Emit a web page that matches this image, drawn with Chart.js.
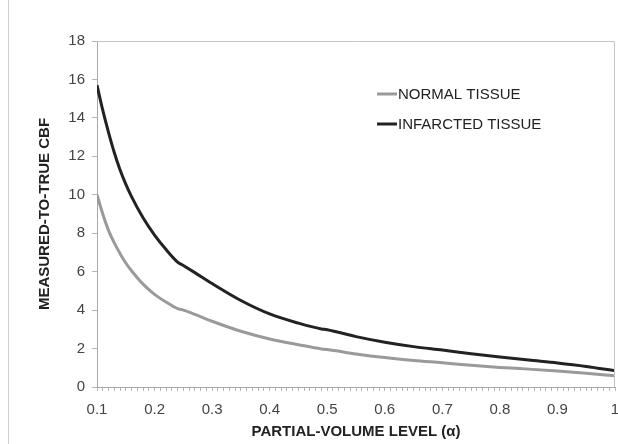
<!DOCTYPE html>
<html>
<head>
<meta charset="utf-8">
<script src="https://cdn.jsdelivr.net/npm/chart.js@4"></script>
<style>
  html, body { margin: 0; padding: 0; background: #fff; }
  #wrap { width: 618px; height: 444px; }
</style>
</head>
<body>
<div id="wrap"><canvas id="myChart" width="618" height="444"></canvas></div>
<script>
// Measured-to-true CBF vs partial-volume level

const alphaLevels = [0.1, 0.11, 0.12, 0.13, 0.14, 0.15, 0.16, 0.18, 0.2, 0.22, 0.24, 0.25, 0.27,
                     0.3, 0.35, 0.4, 0.45, 0.49, 0.5, 0.55, 0.6, 0.65, 0.7, 0.75, 0.8, 0.85,
                     0.9, 0.95, 1.0];
const normalTissue = [10.0, 9.0, 8.15, 7.5, 6.95, 6.45, 6.05, 5.35, 4.82, 4.42, 4.08, 4.0, 3.78,
                      3.42, 2.9, 2.5, 2.2, 1.98, 1.95, 1.72, 1.53, 1.38, 1.26, 1.13, 1.02, 0.93,
                      0.83, 0.71, 0.58];
const infarctedTissue = [15.7, 14.4, 13.25, 12.2, 11.3, 10.55, 9.9, 8.8, 7.9, 7.15, 6.5, 6.32, 5.95,
                         5.38, 4.5, 3.8, 3.32, 3.02, 2.98, 2.62, 2.33, 2.1, 1.92, 1.73, 1.56, 1.4,
                         1.25, 1.07, 0.85];
const seriesNames = ['NORMAL TISSUE', 'INFARCTED TISSUE'];
const seriesColors = ['#9a9a9a', '#222222'];
const yTickStep = 2;

const FONT = '"Liberation Sans", Arial, sans-serif';

const frameAndLegend = {
    id: 'frameAndLegend',
    afterDraw(chart) {
        const { ctx, chartArea: { left, right, top, bottom } } = chart;
        ctx.save();
        // outer left rule of the figure
        ctx.strokeStyle = '#cfcfcf';
        ctx.lineWidth = 1;
        ctx.beginPath(); ctx.moveTo(8.5, 0); ctx.lineTo(8.5, 444); ctx.stroke();
        // top + right plot border
        ctx.strokeStyle = '#c4c4c4';
        ctx.beginPath();
        ctx.moveTo(left, top + 0.5); ctx.lineTo(right - 0.5, top + 0.5); ctx.lineTo(right - 0.5, bottom);
        ctx.stroke();
        // legend
        ctx.font = '15px ' + FONT;
        ctx.textBaseline = 'middle';
        ctx.textAlign = 'left';
        const rows = [94, 124];
        seriesNames.forEach((name, i) => {
            ctx.strokeStyle = seriesColors[i];
            ctx.lineWidth = 3;
            ctx.beginPath(); ctx.moveTo(377, rows[i]); ctx.lineTo(397, rows[i]); ctx.stroke();
            ctx.fillStyle = '#222';
            ctx.fillText(name, 398, rows[i] + 1);
        });
        ctx.restore();
    }
};

document.addEventListener('DOMContentLoaded', () => {
    const toPoints = vals => alphaLevels.map((a, i) => ({ x: a, y: vals[i] }));

    new Chart(document.getElementById('myChart'), {
        type: 'line',
        data: {
            datasets: [
                { label: seriesNames[0], data: toPoints(normalTissue), borderColor: seriesColors[0],
                  borderWidth: 3, pointRadius: 0, cubicInterpolationMode: 'monotone' },
                { label: seriesNames[1], data: toPoints(infarctedTissue), borderColor: seriesColors[1],
                  borderWidth: 3, pointRadius: 0, cubicInterpolationMode: 'monotone' },
            ]
        },
        options: {
            responsive: false,
            animation: false,
            layout: { padding: { top: 41, right: 3, left: 0, bottom: 0 } },
            plugins: { legend: { display: false }, tooltip: { enabled: false } },
            scales: {
                x: {
                    type: 'linear', min: 0.1, max: 1,
                    afterFit: s => { s.height = 57; s.paddingLeft = 0; s.paddingRight = 0; },
                    afterBuildTicks: s => {
                        const t = [];
                        for (let k = 10; k <= 100; k++) t.push({ value: k / 100 });
                        s.ticks = t;
                    },
                    ticks: {
                        autoSkip: false, maxRotation: 0, padding: 10,
                        color: '#444', font: { family: FONT, size: 15 },
                        callback: v => {
                            const k = Math.round(v * 100);
                            if (k % 10 !== 0) return '';
                            return k === 100 ? '1' : (k / 100).toFixed(1);
                        }
                    },
                    grid: { drawOnChartArea: false, tickLength: 4, color: '#b5b5b5' },
                    border: { color: '#a8a8a8' },
                    title: { display: true, text: 'PARTIAL-VOLUME LEVEL (α)', color: '#222',
                             font: { family: FONT, size: 15, weight: 'bold' }, padding: { top: 0, bottom: 3 } }
                },
                y: {
                    min: 0, max: 18,
                    afterFit: s => { s.width = 97; },
                    ticks: { stepSize: yTickStep, padding: 7, color: '#444', font: { family: FONT, size: 15 } },
                    grid: { drawOnChartArea: false, tickLength: 5, color: '#b5b5b5' },
                    border: { color: '#a8a8a8' },
                    title: { display: true, text: 'MEASURED-TO-TRUE CBF', color: '#222',
                             font: { family: FONT, size: 15, weight: 'bold' }, padding: { top: 36, bottom: 0 } }
                }
            }
        },
        plugins: [frameAndLegend]
    });
});
</script>
</body>
</html>
